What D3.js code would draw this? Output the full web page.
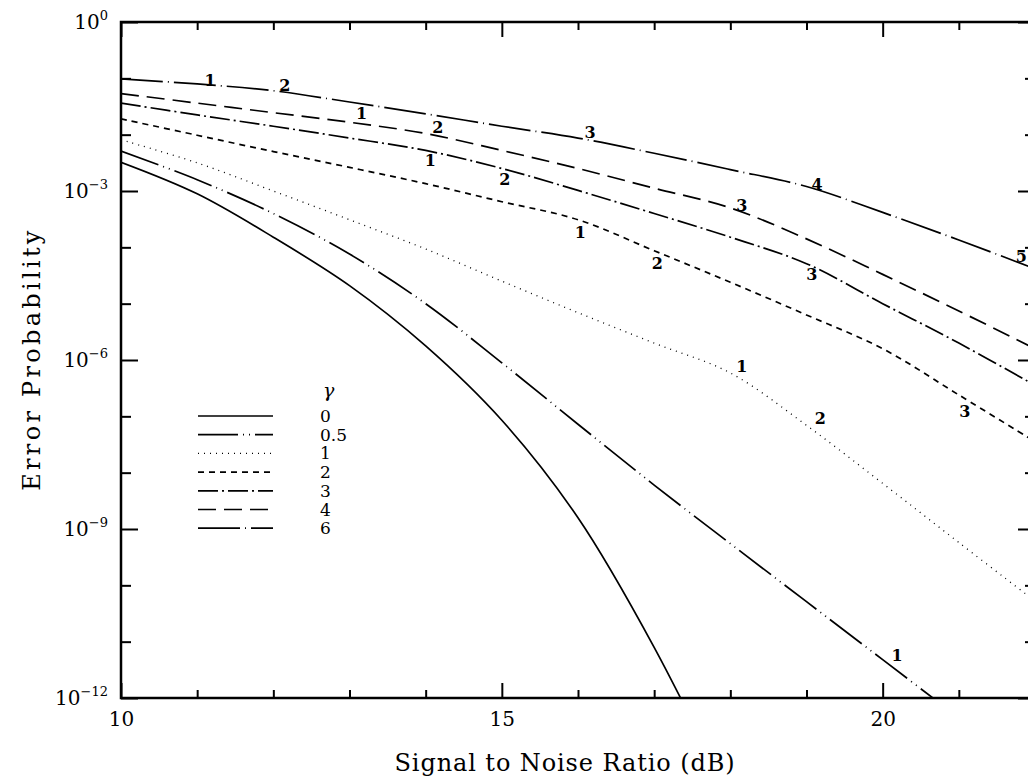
<!DOCTYPE html>
<html>
<head>
<meta charset="utf-8">
<script src="https://cdn.jsdelivr.net/npm/d3@7"></script>
<style>
  html, body { margin: 0; padding: 0; background: #fff; }
  svg { display: block; }
  text { font-family: "DejaVu Serif", "Liberation Serif", serif; fill: #000; }
</style>
</head>
<body>
<script>
// SNR (dB) sample points
const snrDb = [10, 11, 12, 13, 14, 15, 16, 17, 18, 19, 20, 21, 22];

// log10 of error probability (one array per gamma)
const peG0  = [-2.49, -3.05, -3.82, -4.68, -5.75, -7.07, -8.80, -11.10, -13.8];
const peG05 = [-2.29, -2.80, -3.40, -4.12, -5.00, -6.05, -7.14, -8.22, -9.26, -10.29, -11.32, -12.35];
const peG1  = [-2.09, -2.50, -3.00, -3.51, -4.03, -4.60, -5.16, -5.70, -6.23, -7.16, -8.19, -9.24, -10.28];
const peG2  = [-1.72, -2.01, -2.30, -2.58, -2.87, -3.19, -3.51, -4.06, -4.62, -5.20, -5.80, -6.62, -7.45];
const peG3  = [-1.44, -1.65, -1.85, -2.06, -2.28, -2.60, -2.99, -3.40, -3.82, -4.29, -5.00, -5.70, -6.45];
const peG4  = [-1.27, -1.44, -1.61, -1.78, -1.98, -2.28, -2.60, -2.95, -3.30, -3.85, -4.48, -5.13, -5.80];
const peG6  = [-1.01, -1.10, -1.22, -1.42, -1.63, -1.85, -2.06, -2.33, -2.62, -2.92, -3.38, -3.87, -4.38];

const gammaLabels = ["0", "0.5", "1", "2", "3", "4", "6"];
const seriesValues = [peG0, peG05, peG1, peG2, peG3, peG4, peG6];

// curve annotations: [series index, snr, log10 pe, text]
const curveNotes = [
  [6, 11.17, -1.03, "1"], [6, 12.15, -1.12, "2"], [6, 16.16, -1.97, "3"], [6, 19.14, -2.89, "4"], [6, 21.82, -4.17, "5"],
  [5, 13.16, -1.62, "1"], [5, 14.16, -1.88, "2"], [5, 18.15, -3.25, "3"],
  [4, 14.06, -2.45, "1"], [4, 15.04, -2.80, "2"], [4, 19.07, -4.49, "3"],
  [3, 16.03, -3.73, "1"], [3, 17.04, -4.28, "2"], [3, 21.08, -6.92, "3"],
  [2, 18.15, -6.12, "1"], [2, 19.18, -7.03, "2"],
  [1, 20.19, -11.24, "1"]
];

const xMinorTicks = [11, 12, 13, 14, 16, 17, 18, 19, 21, 22];
const xMajorTicks = [10, 15, 20];
const yMajorExp = [0, -3, -6, -9, -12];
const yMinorExp = [-1, -2, -4, -5, -7, -8, -10, -11];

// dash styles per gamma
const dashes = ["none", "40,5,1,5,1,5", "1,5", "6,5", "20,4,2,4", "18,8", "42,5,1,5"];

const width = 1028, height = 778;
const mLeft = 121, mRight = 1035, mTop = 22, mBottom = 698;

const svg = d3.select("body").append("svg")
  .attr("width", width).attr("height", height);

const x = d3.scaleLinear().domain([10, 22]).range([mLeft, mRight]);
const y = d3.scaleLog().domain([1e-12, 1]).range([mBottom, mTop]);

svg.append("clipPath").attr("id", "plot")
  .append("rect").attr("x", mLeft).attr("y", mTop)
  .attr("width", mRight - mLeft).attr("height", mBottom - mTop);

// curves
const line = d3.line()
  .x((d) => x(d[0]))
  .y((d) => y(Math.pow(10, d[1])))
  .curve(d3.curveCatmullRom.alpha(0.5));

const curves = svg.append("g").attr("clip-path", "url(#plot)");
seriesValues.forEach((vals, i) => {
  const pts = vals.map((v, k) => [snrDb[k], v]);
  curves.append("path")
    .attr("d", line(pts))
    .attr("fill", "none")
    .attr("stroke", "#000")
    .attr("stroke-width", i === 2 ? 1.3 : 1.7)
    .attr("stroke-dasharray", dashes[i]);
});

// curve numbers
svg.append("g").selectAll("text")
  .data(curveNotes)
  .enter().append("text")
  .attr("x", (d) => x(d[1]))
  .attr("y", (d) => y(Math.pow(10, d[2])))
  .attr("text-anchor", "middle")
  .attr("dominant-baseline", "central")
  .attr("font-size", 16)
  .attr("font-weight", "bold")
  .text((d) => d[3]);

// axes (ticks point inward)
function styleAxis(g) {
  g.select(".domain").remove();
  g.selectAll(".tick line").attr("stroke", "#000").attr("stroke-width", 2);
  g.selectAll(".tick text").attr("font-size", 20).attr("fill", "#000")
    .attr("font-family", "DejaVu Serif, serif");
}

svg.append("g").attr("transform", `translate(0,${mBottom})`)
  .call(d3.axisBottom(x).tickValues(xMinorTicks).tickSize(-8).tickFormat(""))
  .call(styleAxis);
svg.append("g").attr("transform", `translate(0,${mBottom})`)
  .call(d3.axisBottom(x).tickValues(xMajorTicks).tickSize(-15).tickPadding(14).tickFormat(d3.format("d")))
  .call(styleAxis);
svg.append("g").attr("transform", `translate(0,${mTop})`)
  .call(d3.axisTop(x).tickValues(xMinorTicks).tickSize(-8).tickFormat(""))
  .call(styleAxis);
svg.append("g").attr("transform", `translate(0,${mTop})`)
  .call(d3.axisTop(x).tickValues(xMajorTicks).tickSize(-15).tickFormat(""))
  .call(styleAxis);

const yMinor = yMinorExp.map((e) => Math.pow(10, e));
const yMajor = yMajorExp.map((e) => Math.pow(10, e));
svg.append("g").attr("transform", `translate(${mLeft},0)`)
  .call(d3.axisLeft(y).tickValues(yMinor).tickSize(-10).tickFormat(""))
  .call(styleAxis);
svg.append("g").attr("transform", `translate(${mLeft},0)`)
  .call(d3.axisLeft(y).tickValues(yMajor).tickSize(-17).tickFormat(""))
  .call(styleAxis);
svg.append("g").attr("transform", `translate(${mRight},0)`)
  .call(d3.axisRight(y).tickValues(yMinor).tickSize(-10).tickFormat(""))
  .call(styleAxis);
svg.append("g").attr("transform", `translate(${mRight},0)`)
  .call(d3.axisRight(y).tickValues(yMajor).tickSize(-17).tickFormat(""))
  .call(styleAxis);

// frame
svg.append("rect")
  .attr("x", mLeft).attr("y", mTop)
  .attr("width", mRight - mLeft).attr("height", mBottom - mTop)
  .attr("fill", "none").attr("stroke", "#000").attr("stroke-width", 2.5);

// y tick labels 10^n
const yLab = svg.append("g").selectAll("text")
  .data(yMajorExp)
  .enter().append("text")
  .attr("x", 108)
  .attr("y", (d) => y(Math.pow(10, d)) + 7)
  .attr("text-anchor", "end")
  .attr("font-size", 20);
yLab.append("tspan").text("10");
yLab.append("tspan").attr("dy", -9).attr("font-size", 13).text((d) => d === 0 ? "0" : "\u2212" + (-d));

// axis titles
svg.append("text")
  .attr("x", 565).attr("y", 771)
  .attr("text-anchor", "middle")
  .attr("font-size", 24)
  .attr("letter-spacing", 0.9)
  .text("Signal to Noise Ratio (dB)");

svg.append("text")
  .attr("transform", `translate(40,359) rotate(-90)`)
  .attr("text-anchor", "middle")
  .attr("font-size", 24)
  .attr("letter-spacing", 3.3)
  .text("Error Probability");

// legend
const legend = svg.append("g");
legend.append("text")
  .attr("x", 323).attr("y", 397)
  .attr("font-size", 19).attr("font-style", "italic")
  .text("\u03b3");
gammaLabels.forEach((g, i) => {
  const ly = 416 + i * 18.7;
  legend.append("line")
    .attr("x1", 198).attr("x2", 273).attr("y1", ly).attr("y2", ly)
    .attr("stroke", "#000")
    .attr("stroke-width", i === 2 ? 1.3 : 1.7)
    .attr("stroke-dasharray", dashes[i]);
  legend.append("text")
    .attr("x", 320).attr("y", ly + 6)
    .attr("font-size", 17)
    .text(g);
});
</script>
</body>
</html>
